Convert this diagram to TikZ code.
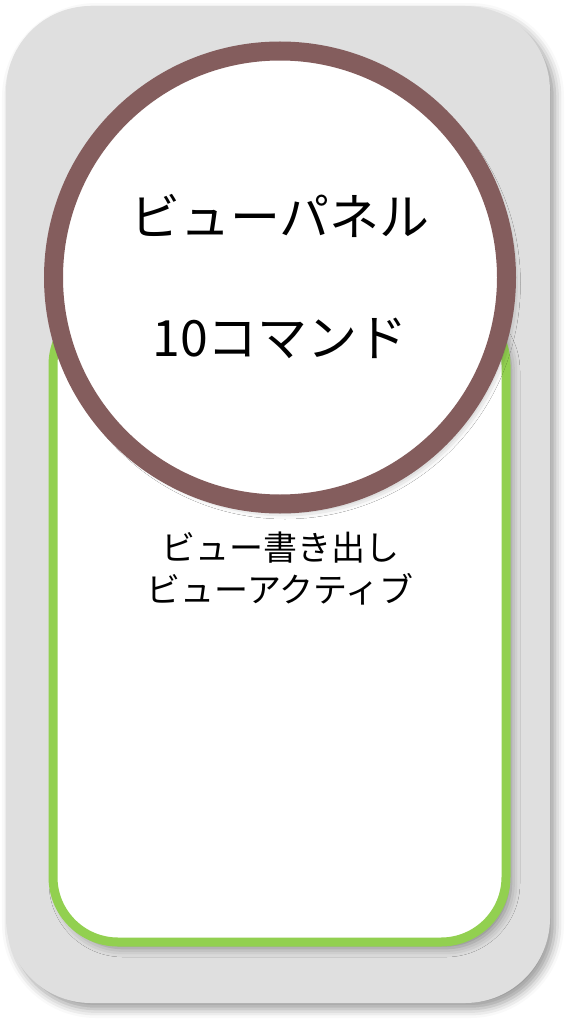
\documentclass[tikz,border=0pt]{standalone}
\usepackage{fontspec}
\setmainfont{Noto Sans CJK JP}
\usepackage{xcolor}
\usetikzlibrary{shadows.blur}

\definecolor{panelgray}{RGB}{223,223,223}
\definecolor{hubbrown}{RGB}{132,93,93}
\definecolor{groupgreen}{RGB}{146,208,80}

\begin{document}
\begin{tikzpicture}[y=-1pt,x=1pt]
	\tikzset{
		softshadow/.style={blur shadow={shadow xshift=5pt,shadow yshift=-6pt,shadow blur radius=9pt,shadow opacity=40}},
		bigtext/.style={font=\fontsize{50}{60}\selectfont},
		smalltext/.style={font=\fontsize{34}{42}\selectfont, align=center},
	}
	\useasboundingbox (0,0) rectangle (571,1024);

	\fill[panelgray, softshadow, rounded corners=85pt] (6,6) rectangle (550,1003);
	\draw[groupgreen, line width=9pt, fill=white, softshadow, rounded corners=65pt] (53,300) rectangle (506,942);
	\draw[hubbrown, line width=19pt, fill=white, softshadow] (280,277.5) circle (226.5);

	\node[bigtext] (title) at (280,216) {ビューパネル};
	\node[bigtext] (count) at (280,338) {10コマンド};
	\node[smalltext] (cmds) at (280,569) {ビュー書き出し\\ビューアクティブ};
\end{tikzpicture}
\end{document}
